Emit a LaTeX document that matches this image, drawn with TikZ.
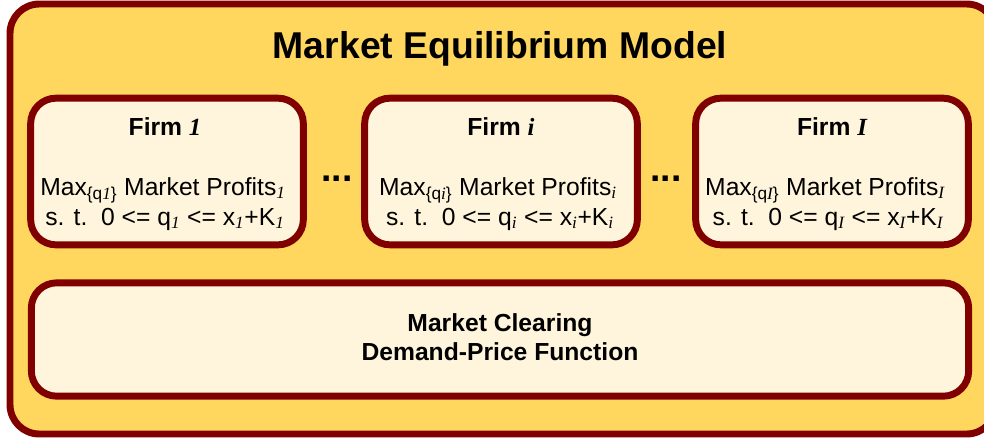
\documentclass[tikz,border=0pt]{standalone}
\usepackage{fontspec}
\setmainfont{Liberation Sans}
\newfontfamily\serifit{Liberation Serif}
\definecolor{rim}{HTML}{800000}
\definecolor{sun}{HTML}{FFD75F}
\definecolor{cream}{HTML}{FFF5DC}
\newcommand{\ix}[1]{{\serifit\itshape #1}}
\newcommand{\fsub}[1]{\textsubscript{\ix{#1}}}
\tikzset{
  frame/.style={draw=rim,fill=sun,line width=5.2pt,rounded corners=22pt},
  firm/.style={draw=rim,fill=cream,line width=5.2pt,rounded corners=19pt,
    inner sep=0pt,minimum width=204.5pt,minimum height=110pt},
  head/.style={anchor=base,inner sep=0pt,font=\bfseries\fontsize{18.5}{22}\selectfont},
  eqn/.style={anchor=base,inner sep=0pt,font=\fontsize{18.5}{22}\selectfont},
  dots/.style={anchor=base,inner sep=0pt,font=\bfseries\fontsize{28}{30}\selectfont},
}

\begin{document}
\begin{tikzpicture}[x=0.75pt,y=-0.75pt]
  \useasboundingbox (0,0) rectangle (984,440);
  \draw[frame] (10,4) rectangle (996,434);
  \node[anchor=base,inner sep=0pt,font=\bfseries\fontsize{28}{32}\selectfont] (title) at (500,58)
    {Market Equilibrium Model};
  % the firms
  \node[firm] (firm1) at (167,171.5) {};
  \node[head] (head1) at (165,135) {Firm \ix{1}};
  \node[eqn] (maxa) at (163,195) {Max\textsubscript{\{q\ix{1}\}} Market Profits\fsub{1}};
  \node[eqn] (sta) at (165,225) {s. t.\ \ 0 <= q\fsub{1} <= x\fsub{1}+K\fsub{1}};
  \node[firm] (firmi) at (501,171.5) {};
  \node[head] (headi) at (501,135) {Firm \ix{i}};
  \node[eqn] (maxi) at (498,195) {Max\textsubscript{\{q\ix{i}\}} Market Profits\fsub{i}};
  \node[eqn] (sti) at (500,225) {s. t.\ \ 0 <= q\fsub{i} <= x\fsub{i}+K\fsub{i}};
  \node[firm] (firmI) at (832,171.5) {};
  \node[head] (headI) at (832,135) {Firm \ix{I}};
  \node[eqn] (maxI) at (825,195) {Max\textsubscript{\{q\ix{I}\}} Market Profits\fsub{I}};
  \node[eqn] (stI) at (828,225) {s. t.\ \ 0 <= q\fsub{I} <= x\fsub{I}+K\fsub{I}};
  \node[dots] (dots1) at (337,181) {...};
  \node[dots] (dots2) at (666,181) {...};
  % market clearing
  \node[firm,minimum width=703pt,minimum height=85pt] (clear) at (500,339.5) {};
  \node[head] (clear1) at (500,331) {Market Clearing};
  \node[head] (clear2) at (500,360) {Demand-Price Function};
\end{tikzpicture}
\end{document}
